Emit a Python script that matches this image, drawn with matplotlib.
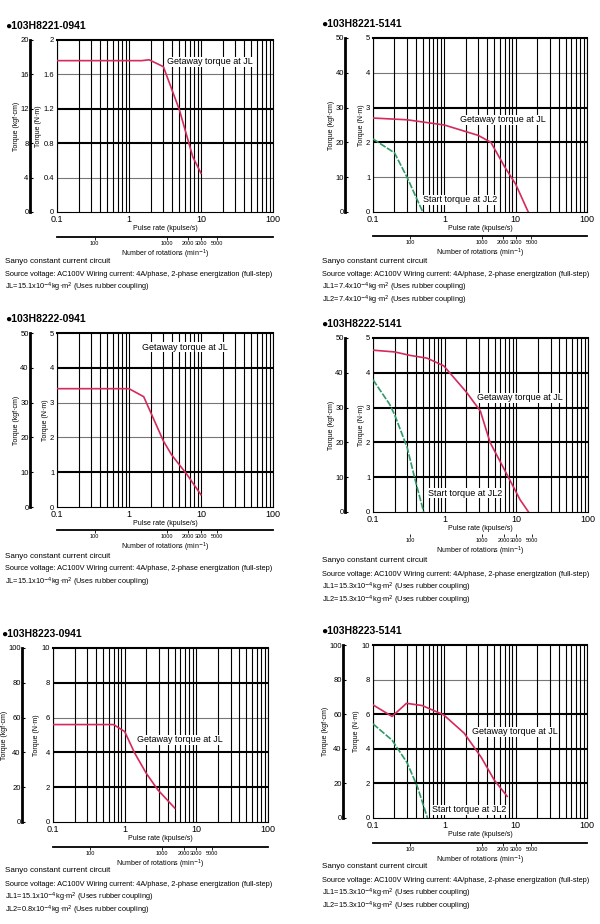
import numpy as np
import matplotlib.pyplot as plt

plt.rcParams['font.family'] = ['Liberation Sans', 'DejaVu Sans']

# ---- data (pulse rate kpulse/s, torque N·m) ----
titles = ['●103H8221-0941', '●103H8221-5141', '●103H8222-0941',
          '●103H8222-5141', '●103H8223-0941', '●103H8223-5141']
ymax_nm = [2, 5, 5, 5, 10, 10]
ytick_nm = [[0, 0.4, 0.8, 1.2, 1.6, 2], [0, 1, 2, 3, 4, 5], [0, 1, 2, 3, 4, 5],
            [0, 1, 2, 3, 4, 5], [0, 2, 4, 6, 8, 10], [0, 2, 4, 6, 8, 10]]
ytick_nm_lbl = [['0', '0.4', '0.8', '1.2', '1.6', '2'], ['0', '1', '2', '3', '4', '5'],
                ['0', '1', '2', '3', '4', '5'], ['0', '1', '2', '3', '4', '5'],
                ['0', '2', '4', '6', '8', '10'], ['0', '2', '4', '6', '8', '10']]
ytick_kgf = [[0, 4, 8, 12, 16, 20], [0, 10, 20, 30, 40, 50], [0, 10, 20, 30, 40, 50],
             [0, 10, 20, 30, 40, 50], [0, 20, 40, 60, 80, 100], [0, 20, 40, 60, 80, 100]]
thick_rows = [[0.8, 1.2], [2, 3], [1, 4], [1, 2, 3, 4], [2, 4, 8], [2, 4, 6]]
thin_rows = [[0.4, 1.6], [1, 4], [2, 3], [], [6], [8]]

getaway_x = [
    [0.1, 1.5, 1.9, 3.0, 5.0, 7.7, 10],
    [0.1, 0.3, 1.0, 3.0, 4.5, 7.0, 10, 15],
    [0.1, 1.0, 1.6, 3.0, 3.9, 6.3, 10],
    [0.1, 0.2, 0.33, 0.57, 0.97, 2.0, 3.15, 4.3, 7.3, 11.3, 14.8],
    [0.1, 0.7, 1.0, 1.38, 2.0, 2.9, 5.0],
    [0.1, 0.185, 0.295, 0.49, 0.98, 1.9, 3.3, 5.0, 7.0, 7.6],
]
getaway_y = [
    [1.76, 1.76, 1.77, 1.69, 1.19, 0.64, 0.45],
    [2.7, 2.65, 2.5, 2.2, 2.0, 1.3, 0.8, 0.0],
    [3.4, 3.4, 3.17, 1.9, 1.5, 0.95, 0.35],
    [4.65, 4.6, 4.5, 4.42, 4.2, 3.45, 2.9, 2.0, 1.1, 0.35, 0.0],
    [5.6, 5.6, 5.2, 3.96, 2.8, 1.85, 0.8],
    [6.54, 5.87, 6.63, 6.5, 5.96, 4.9, 3.5, 2.2, 1.44, 1.25],
]
start_x = [None, [0.1, 0.2, 0.3, 0.45, 0.5], None,
           [0.1, 0.17, 0.2, 0.3, 0.39, 0.51], None,
           [0.1, 0.185, 0.3, 0.42, 0.58]]
start_y = [None, [2.1, 1.7, 1.0, 0.2, 0.0], None,
           [3.8, 3.1, 2.8, 1.85, 0.9, 0.0], None,
           [5.44, 4.5, 3.2, 1.8, 0.0]]

rpm_ticks = [100, 1000, 2000, 3000, 5000]
rpm_labels = ['100', '1000', '2000', '3000', '5000']

notes = [
    ['JL=15.1x10$^{-4}$kg·m$^2$ (Uses rubber coupling)'],
    ['JL1=7.4x10$^{-4}$kg·m$^2$ (Uses rubber coupling)',
     'JL2=7.4x10$^{-4}$kg·m$^2$ (Uses rubber coupling)'],
    ['JL=15.1x10$^{-4}$kg·m$^2$ (Uses rubber coupling)'],
    ['JL1=15.3x10$^{-4}$kg·m$^2$ (Uses rubber coupling)',
     'JL2=15.3x10$^{-4}$kg·m$^2$ (Uses rubber coupling)'],
    ['JL1=15.1x10$^{-4}$kg·m$^2$ (Uses rubber coupling)',
     'JL2=0.8x10$^{-4}$kg·m$^2$ (Uses rubber coupling)'],
    ['JL1=15.3x10$^{-4}$kg·m$^2$ (Uses rubber coupling)',
     'JL2=15.3x10$^{-4}$kg·m$^2$ (Uses rubber coupling)'],
]

# layout in pixels: box x0, top, x1, bottom; outer axis offset; rpm axis offset
boxes = [(57, 40, 273, 212), (373, 38, 587, 212), (57, 333, 273, 507),
         (373, 338, 588, 512), (53, 648, 268, 822), (373, 645, 587, 818)]
outer_pos = [-0.125, -0.13, -0.125, -0.13, -0.144, -0.14]
rpm_pos = [-0.145, -0.138, -0.132, -0.125, -0.144, -0.145]
rpm_line = [True, True, True, False, True, True]
getaway_lbl = [(167, 62), (460, 120), (142, 347), (477, 398), (137, 740), (472, 732)]
start_lbl = [None, (423, 200), None, (428, 493), None, (432, 810)]

W, H = 600, 924
fig = plt.figure(figsize=(6, 9.24), dpi=100)
red = '#d42a5c'
green = '#2e9a66'

for i in range(6):
    x0, y0, x1, y1 = boxes[i]
    ax = fig.add_axes([x0 / W, 1 - y1 / H, (x1 - x0) / W, (y1 - y0) / H])
    ax.set_xscale('log')
    ax.set_xlim(0.1, 100)
    ax.set_ylim(0, ymax_nm[i])
    ax.set_xticks([0.1, 1, 10, 100])
    ax.set_xticklabels(['0.1', '1', '10', '100'], fontsize=6.5)
    ax.xaxis.set_minor_formatter(plt.NullFormatter())
    ax.grid(True, which='both', axis='x', color='black', lw=0.8)
    for r in thick_rows[i]:
        ax.axhline(r, color='black', lw=1.5, zorder=1)
    for r in thin_rows[i]:
        ax.axhline(r, color='#777777', lw=0.8, zorder=1)
    ax.set_yticks(ytick_nm[i])
    ax.set_yticklabels(ytick_nm_lbl[i], fontsize=5.5)
    ax.tick_params(axis='both', which='both', length=0, pad=2)
    for s in ax.spines.values():
        s.set_linewidth(0.8)
    ax.spines['top'].set_linewidth(1.5)
    ax.set_ylabel('Torque (N·m)', fontsize=5, labelpad=1)
    ax.set_xlabel('Pulse rate (kpulse/s)', fontsize=5, labelpad=1)

    ax.plot(getaway_x[i], getaway_y[i], color=red, lw=1.2, zorder=3)
    if start_x[i] is not None:
        ax.plot(start_x[i], start_y[i], color=green, lw=1.2, ls=(0, (4, 1)), zorder=3)

    gx, gy = getaway_lbl[i]
    fig.text(gx / W, 1 - gy / H, 'Getaway torque at JL', fontsize=6.5, va='center',
             bbox=dict(facecolor='white', edgecolor='none', pad=0.5))
    if start_lbl[i] is not None:
        sx, sy = start_lbl[i]
        fig.text(sx / W, 1 - sy / H, 'Start torque at JL2', fontsize=6.5, va='center',
                 bbox=dict(facecolor='white', edgecolor='none', pad=0.5))

    # outer kgf·cm axis
    sec = ax.secondary_yaxis(outer_pos[i], functions=(lambda v: v * 10, lambda v: v / 10))
    sec.set_yticks(ytick_kgf[i])
    sec.tick_params(axis='y', direction='in', length=2, width=0.8, labelsize=5.5, pad=1)
    sec.spines['left'].set_linewidth(2)
    sec.set_ylabel('Torque (kgf·cm)', fontsize=5, labelpad=0)

    # rotation axis
    rot = ax.secondary_xaxis(rpm_pos[i], functions=(lambda v: v * 300, lambda v: v / 300))
    rot.set_xticks(rpm_ticks)
    rot.set_xticklabels(rpm_labels, fontsize=4)
    rot.xaxis.set_minor_locator(plt.NullLocator())
    rot.tick_params(axis='x', direction='out', length=2, width=0.6, pad=1)
    rot.spines['bottom'].set_linewidth(1.3 if rpm_line[i] else 0)
    rot.set_xlabel('Number of rotations (min$^{-1}$)', fontsize=5, labelpad=1)

    # title and notes
    fig.text((x0 - 52) / W, 1 - (y0 - 14) / H, titles[i],
             fontsize=7.5, fontweight='bold', va='center')
    tx = 5 / W if x0 < 100 else 322 / W
    ty = y1 + 49
    lines = ['Sanyo constant current circuit',
             'Source voltage: AC100V Wiring current: 4A/phase, 2-phase energization (full-step)'] + notes[i]
    sizes = [5.8, 5.3] + [5.3] * len(notes[i])
    for k, (ln, fs) in enumerate(zip(lines, sizes)):
        fig.text(tx, 1 - (ty + 13 * k) / H, ln, fontsize=fs, va='center')

fig.savefig('out.png', dpi=100)
